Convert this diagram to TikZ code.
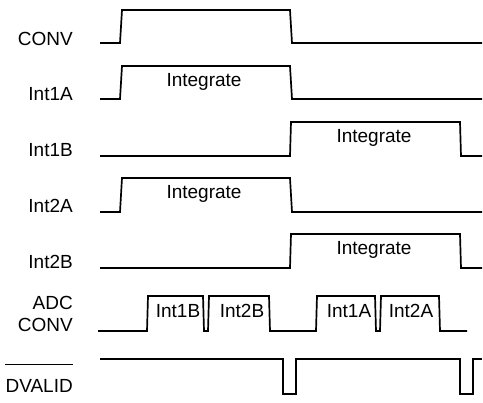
\documentclass[tikz,border=0pt]{standalone}
\usepackage{fontspec}
\setmainfont{Liberation Sans}
\begin{document}
\begin{tikzpicture}[x=1pt,y=-1pt,
  sig/.style={line width=1.7pt,line join=miter,black},
  lab/.style={anchor=base east,font=\fontsize{19}{21}\selectfont,inner sep=0pt},
  txt/.style={anchor=base,font=\fontsize{19}{21}\selectfont,inner sep=0pt}]
\useasboundingbox (0,0) rectangle (483,403);
% labels
\node[lab] (lconv) at (73,46) {CONV};
\node[lab] (l1a) at (73,101) {Int1A};
\node[lab] (l1b) at (73,157) {Int1B};
\node[lab] (l2a) at (73,213) {Int2A};
\node[lab] (l2b) at (73,269) {Int2B};
\node[lab] (ladc) at (73,310) {ADC};
\node[lab] (ladc2) at (73,332) {CONV};
\node[lab] (ldv) at (73,393) {DVALID};
\draw[line width=0.8pt] (ldv.north west |- 0,364) -- (ldv.north east |- 0,364);
% waveforms
\draw[sig] (100,43) -- (120,43) -- (122,10) -- (290,10) -- (292,43) -- (482,43);
\draw[sig] (100,99) -- (120,99) -- (122,66) -- (290,66) -- (292,99) -- (482,99);
\draw[sig] (100,156) -- (290,156) -- (291,122) -- (460,122) -- (461,156) -- (482,156);
\draw[sig] (100,212) -- (120,212) -- (122,178) -- (290,178) -- (292,212) -- (482,212);
\draw[sig] (100,268) -- (290,268) -- (291,234) -- (460,234) -- (461,268) -- (482,268);
\draw[sig] (98,331) -- (147,331) -- (148,296) -- (203,296) -- (204,331) -- (208,331) -- (209,296)
  -- (269,296) -- (270,331) -- (316,331) -- (317,296) -- (375,296) -- (376,331) -- (380,331)
  -- (381,296) -- (439,296) -- (440,331) -- (467,331);
\draw[sig] (100,359) -- (283,359) -- (283,394) -- (296,394) -- (296,359) -- (460,359) -- (460,394)
  -- (473,394) -- (473,359) -- (482,359);
% texts
\node[txt] (i1a) at (204,87) {Integrate};
\node[txt] (i1b) at (374,143) {Integrate};
\node[txt] (i2a) at (204,199) {Integrate};
\node[txt] (i2b) at (374,255) {Integrate};
\node[txt] (a1b) at (178,318) {Int1B};
\node[txt] (a2b) at (242,318) {Int2B};
\node[txt] (a1a) at (349,318) {Int1A};
\node[txt] (a2a) at (411,318) {Int2A};
\end{tikzpicture}
\end{document}
